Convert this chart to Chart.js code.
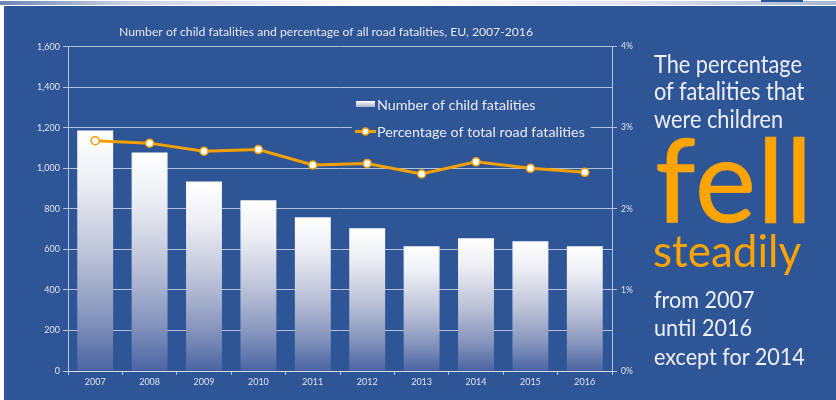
<!DOCTYPE html>
<html>
<head>
<meta charset="utf-8">
<script src="https://cdn.jsdelivr.net/npm/chart.js@4"></script>
<style>
  html, body { margin: 0; padding: 0; background: #fff; }
  #page { position: relative; width: 836px; height: 400px; overflow: hidden; background: #fff; }
  #topbar { position: absolute; left: 0; top: 1px; width: 836px; height: 4px;
    background: linear-gradient(to right, #6f84b3 0%, #c9d1e3 15%, #ffffff 45%, #dfe4ef 75%, #a9b7d4 100%); }
  #tab { position: absolute; left: 761px; top: 0; width: 42px; height: 2px; background: #2e5596; }
  #panel { position: absolute; left: 4px; top: 6px; width: 832px; height: 394px; background: #2e5596; }
  #chart { position: absolute; left: 0; top: 0; }
  .txt { position: absolute; left: 654px; white-space: nowrap; font-family: Lato, sans-serif;
    line-height: 1.2; transform-origin: left top; }
  .w { color: #eef0f6; font-size: 25px; transform: scaleX(0.87); }
  .o { color: #ffa400; }
</style>
</head>
<body>
<div id="page">
  <div id="topbar"></div>
  <div id="tab"></div>
  <div id="panel"></div>
  <canvas id="chart" width="836" height="400"></canvas>
  <div class="txt w" style="top:48px">The percentage</div>
  <div class="txt w" style="top:75px">of fatalities that</div>
  <div class="txt w" style="top:103px">were children</div>
  <div class="txt o" style="top:108px;left:655px;font-size:116px;-webkit-text-stroke:0.7px #ffa400;letter-spacing:1px">fell</div>
  <div class="txt o" style="top:224px;left:653px;font-size:44px">steadily</div>
  <div class="txt w" style="top:285px;font-size:24px;transform:scaleX(0.9)">from 2007</div>
  <div class="txt w" style="top:313px;font-size:24px;transform:scaleX(0.9)">until 2016</div>
  <div class="txt w" style="top:342px;font-size:24px;transform:scaleX(0.9)">except for 2014</div>
</div>
<script>
const years = ['2007', '2008', '2009', '2010', '2011', '2012', '2013', '2014', '2015', '2016'];
const childFatalities = [1186, 1078, 935, 842, 758, 704, 615, 655, 640, 615];
const pctOfAll = [2.84, 2.81, 2.71, 2.73, 2.54, 2.56, 2.43, 2.58, 2.50, 2.45];
const leftTicks = [0, 200, 400, 600, 800, 1000, 1200, 1400, 1600];
const rightTicks = [0, 1, 2, 3, 4];

const BG = '#2e5596';
const ORANGE = '#f5a000';
const TEXT = '#dfe3ee';
const GRID = 'rgba(225,230,242,0.75)';
const FONT = 'Lato, sans-serif';

// per-bar gradient, white at top fading into the blue at the base
function barFill(ctx) {
  const chart = ctx.chart;
  if (!chart.chartArea || ctx.type !== 'data') return '#ffffff';
  const y = chart.scales.y;
  const top = y.getPixelForValue(ctx.parsed.y);
  const base = y.getPixelForValue(0);
  const g = chart.ctx.createLinearGradient(0, top, 0, base);
  g.addColorStop(0, '#ffffff');
  g.addColorStop(0.2, '#eef0f5');
  g.addColorStop(0.5, '#bfc5d9');
  g.addColorStop(0.78, '#8695bd');
  g.addColorStop(1, '#4a65a2');
  return g;
}

// legend sits inside the plot and hides the gridlines behind it
const insideLegend = {
  id: 'insideLegend',
  afterDatasetsDraw(chart) {
    const c = chart.ctx;
    c.save();
    c.fillStyle = BG;
    c.fillRect(352, 92, 239, 48);

    const g = c.createLinearGradient(0, 101, 0, 108);
    g.addColorStop(0, '#ffffff');
    g.addColorStop(1, '#9aa6c6');
    c.fillStyle = g;
    c.fillRect(356, 101, 19, 6);

    c.strokeStyle = ORANGE;
    c.lineWidth = 3;
    c.beginPath();
    c.moveTo(355, 131.5);
    c.lineTo(376, 131.5);
    c.stroke();
    c.beginPath();
    c.arc(365.5, 131.5, 3.5, 0, Math.PI * 2);
    c.fillStyle = '#ffffff';
    c.fill();
    c.lineWidth = 1.5;
    c.stroke();

    c.fillStyle = '#e8ebf3';
    c.font = '14.3px ' + FONT;
    c.textBaseline = 'middle';
    c.fillText('Number of child fatalities', 377, 105);
    c.fillText('Percentage of total road fatalities', 377, 132);
    c.restore();
  }
};

new Chart(document.getElementById('chart'), {
  data: {
    labels: years,
    datasets: [
      {
        type: 'line',
        label: 'Percentage of total road fatalities',
        data: pctOfAll,
        yAxisID: 'y1',
        borderColor: ORANGE,
        borderWidth: 3,
        pointRadius: 4,
        pointBackgroundColor: '#ffffff',
        pointBorderColor: ORANGE,
        pointBorderWidth: 1.5,
        tension: 0,
        order: 0
      },
      {
        type: 'bar',
        label: 'Number of child fatalities',
        data: childFatalities,
        yAxisID: 'y',
        backgroundColor: barFill,
        borderWidth: 0,
        barPercentage: 0.66,
        categoryPercentage: 1,
        order: 1
      }
    ]
  },
  options: {
    responsive: false,
    animation: false,
    layout: { padding: { left: 0, right: 184, top: 0, bottom: 0 } },
    plugins: {
      legend: { display: false },
      tooltip: { enabled: false },
      title: {
        display: true,
        text: 'Number of child fatalities and percentage of all road fatalities, EU, 2007-2016',
        color: '#e6e9f1',
        font: { family: FONT, size: 12.2, weight: 'normal' },
        padding: { top: 25, bottom: 7 }
      }
    },
    scales: {
      x: {
        grid: { display: true, drawOnChartArea: false, drawTicks: true, tickLength: 4, color: GRID, offset: true },
        border: { display: true, color: GRID, width: 1 },
        ticks: { color: TEXT, font: { family: FONT, size: 9 }, padding: 2, maxRotation: 0 },
        afterFit(s) { s.height = 29; }
      },
      y: {
        position: 'left',
        min: 0,
        max: 1600,
        afterBuildTicks(s) { s.ticks = leftTicks.map(v => ({ value: v })); },
        grid: { color: GRID, tickLength: 5, drawTicks: true },
        border: { display: true, color: GRID, width: 1 },
        ticks: {
          color: TEXT,
          font: { family: FONT, size: 9 },
          padding: 3,
          callback: v => v.toLocaleString('en-US')
        },
        afterFit(s) { s.width = 68; }
      },
      y1: {
        position: 'right',
        min: 0,
        max: 4,
        afterBuildTicks(s) { s.ticks = rightTicks.map(v => ({ value: v })); },
        grid: { drawOnChartArea: false, color: GRID, tickLength: 5, drawTicks: true },
        border: { display: true, color: GRID, width: 1 },
        ticks: {
          color: TEXT,
          font: { family: FONT, size: 8.5 },
          padding: 4,
          callback: v => v + '%'
        },
        afterFit(s) { s.width = 40; }
      }
    }
  },
  plugins: [insideLegend]
});
</script>
</body>
</html>
